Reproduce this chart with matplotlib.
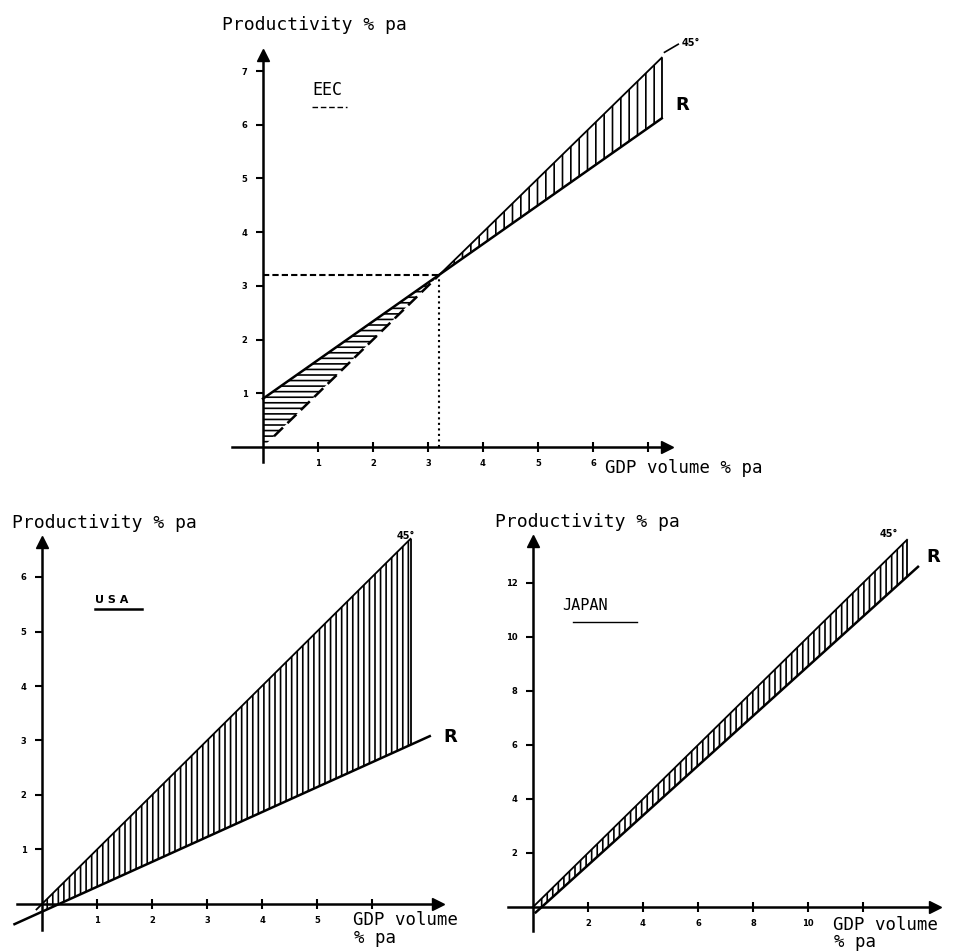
import numpy as np
import matplotlib.pyplot as plt

plt.rcParams['hatch.linewidth'] = 1.2
plt.rcParams['font.family'] = 'DejaVu Sans Mono'

# ---- data ----
# EEC
eec_r_x = [0.0, 7.25]
eec_r_y = [0.9, 6.12]
eec_45_x = [0.2, 7.25]
eec_cross = 3.2
eec_xticks = [1, 2, 3, 4, 5, 6, 7]
eec_xlabels = ['1', '2', '3', '4', '5', '6', '']
eec_yticks = [1, 2, 3, 4, 5, 6, 7]
eec_ylabels = ['1', '2', '3', '4', '5', '6', '7']

# USA
usa_r_x = [-0.5, 7.05]
usa_r_y = [-0.37, 3.08]
usa_45_x = [-0.1, 6.7]
usa_xticks = [1, 2, 3, 4, 5, 6]
usa_xlabels = ['1', '2', '3', '4', '5', '']
usa_yticks = [1, 2, 3, 4, 5, 6]
usa_ylabels = ['1', '2', '3', '4', '5', '6']

# Japan
jap_r_x = [0.1, 14.0]
jap_r_y = [-0.2, 12.6]
jap_45_x = [0.0, 13.6]
jap_xticks = [2, 4, 6, 8, 10, 12]
jap_xlabels = ['2', '4', '6', '8', '10', '']
jap_yticks = [2, 4, 6, 8, 10, 12]
jap_ylabels = ['2', '4', '6', '8', '10', '12']

W, H = 965, 952
fig = plt.figure(figsize=(W / 100, H / 100), dpi=100)


def panel(ox, oy, sx, sy, xlim, ylim):
    # place an axes so that data origin lands on pixel (ox, oy)
    left = ox + xlim[0] * sx
    right = ox + xlim[1] * sx
    top = oy - ylim[1] * sy
    bottom = oy - ylim[0] * sy
    ax = fig.add_axes([left / W, 1 - bottom / H, (right - left) / W, (bottom - top) / H])
    ax.set_xlim(xlim)
    ax.set_ylim(ylim)
    ax.patch.set_visible(False)
    return ax


def draw_axes(ax, x_ext, y_ext, xt, xl, yt, yl):
    for s in ['top', 'right']:
        ax.spines[s].set_visible(False)
    for s in ['left', 'bottom']:
        ax.spines[s].set_position(('data', 0))
        ax.spines[s].set_linewidth(1.8)
    ax.spines['left'].set_bounds(*y_ext)
    ax.spines['bottom'].set_bounds(*x_ext)
    ax.plot(x_ext[1], 0, marker='>', ms=9, color='k', clip_on=False)
    ax.plot(0, y_ext[1], marker='^', ms=9, color='k', clip_on=False)
    ax.set_xticks(xt, xl)
    ax.set_yticks(yt, yl)
    ax.tick_params(axis='x', direction='inout', length=7, width=1.5, labelsize=6, pad=5)
    ax.tick_params(axis='y', direction='out', length=5, width=1.5, labelsize=6, pad=6)
    for lbl in ax.get_xticklabels() + ax.get_yticklabels():
        lbl.set_fontweight('bold')
        lbl.set_family('DejaVu Sans')


def line_fn(xs, ys):
    slope = (ys[1] - ys[0]) / (xs[1] - xs[0])
    return lambda x: ys[0] + slope * (np.asarray(x) - xs[0])


# ---------------- EEC ----------------
ax = panel(263, 447, 55, 53.7, (-0.8, 7.6), (-0.6, 7.6))
draw_axes(ax, (-0.56, 7.35), (-0.28, 7.3), eec_xticks, eec_xlabels, eec_yticks, eec_ylabels)
r = line_fn(eec_r_x, eec_r_y)
ax.plot(eec_r_x, eec_r_y, color='k', lw=1.8)
xs = np.linspace(eec_cross, eec_45_x[1], 50)
ax.fill_between(xs, r(xs), xs, facecolor='none', edgecolor='k', hatch='||', linewidth=0)
ax.plot([eec_cross, eec_45_x[1]], [eec_cross, eec_45_x[1]], color='k', lw=1.3)
ax.vlines(eec_45_x[1], r(eec_45_x[1]), eec_45_x[1], color='k', lw=1.3)
xs = np.linspace(0, eec_cross, 50)
ax.fill_between(xs, xs, r(xs), facecolor='none', edgecolor='k', hatch='---', linewidth=0)
ax.plot([eec_45_x[0], eec_cross], [eec_45_x[0], eec_cross], color='k', lw=1.8,
        dashes=(5, 2.5))
ax.plot([eec_45_x[1] + 0.05, eec_45_x[1] + 0.3], [eec_45_x[1] + 0.1, eec_45_x[1] + 0.25],
        color='k', lw=1.2, clip_on=False)
ax.plot([0, eec_cross], [eec_cross, eec_cross], color='k', lw=1.5, dashes=(3, 1.5))
ax.plot([eec_cross, eec_cross], [0, eec_cross], color='k', lw=1.5, ls=':')
ax.text(-0.75, 7.86, 'Productivity % pa', fontsize=13, va='center', clip_on=False)
ax.text(0.89, 6.65, 'EEC', fontsize=12, va='center')
ax.plot([0.89, 1.53], [6.33, 6.33], color='k', lw=1.0, dashes=(4, 2))
ax.text(7.5, 6.37, 'R', fontsize=13, fontweight='bold', family='DejaVu Sans',
        va='center', clip_on=False)
ax.text(7.62, 7.52, '45°', fontsize=7, fontweight='bold', family='DejaVu Sans',
        va='center', clip_on=False)
ax.text(6.22, -0.39, 'GDP volume % pa', fontsize=12.5, va='center', clip_on=False)

# ---------------- USA ----------------
ax = panel(42, 904, 55, 54.5, (-0.75, 7.6), (-0.7, 7.2))
draw_axes(ax, (-0.45, 7.2), (-0.48, 6.65), usa_xticks, usa_xlabels, usa_yticks, usa_ylabels)
r = line_fn(usa_r_x, usa_r_y)
ax.plot(usa_r_x, usa_r_y, color='k', lw=1.8, clip_on=False)
xs = np.linspace(0, usa_45_x[1], 80)
ax.fill_between(xs, r(xs), xs, facecolor='none', edgecolor='k', hatch='|||', linewidth=0)
ax.plot(usa_45_x, usa_45_x, color='k', lw=1.3)
ax.vlines(usa_45_x[1], r(usa_45_x[1]), usa_45_x[1], color='k', lw=1.3)
ax.text(-0.55, 7.0, 'Productivity % pa', fontsize=13, va='center', clip_on=False)
ax.text(0.96, 5.58, 'U S A', fontsize=8, fontweight='bold', family='DejaVu Sans', va='center')
ax.plot([0.96, 1.82], [5.41, 5.41], color='k', lw=1.8)
ax.text(6.45, 6.75, '45°', fontsize=7, fontweight='bold', family='DejaVu Sans', va='center')
ax.text(7.3, 3.06, 'R', fontsize=13, fontweight='bold', family='DejaVu Sans',
        va='center', clip_on=False)
ax.text(5.65, -0.29, 'GDP volume', fontsize=12.5, va='center', clip_on=False)
ax.text(5.68, -0.62, '% pa', fontsize=12.5, va='center', clip_on=False)

# ---------------- JAPAN ----------------
ax = panel(533, 907, 27.5, 27, (-1.5, 15.2), (-1.4, 14.6))
draw_axes(ax, (-0.9, 14.6), (-0.9, 13.55), jap_xticks, jap_xlabels, jap_yticks, jap_ylabels)
r = line_fn(jap_r_x, jap_r_y)
ax.plot(jap_r_x, jap_r_y, color='k', lw=1.8)
xs = np.linspace(0.2, jap_45_x[1], 80)
ax.fill_between(xs, r(xs), xs, facecolor='none', edgecolor='k', hatch='|||', linewidth=0)
ax.plot(jap_45_x, jap_45_x, color='k', lw=1.3)
ax.vlines(jap_45_x[1], r(jap_45_x[1]), jap_45_x[1], color='k', lw=1.3)
ax.text(-1.38, 14.26, 'Productivity % pa', fontsize=13, va='center', clip_on=False)
ax.text(1.05, 11.15, 'JAPAN', fontsize=11, va='center')
ax.plot([1.45, 3.78], [10.55, 10.55], color='k', lw=1.0)
ax.text(12.6, 13.8, '45°', fontsize=7, fontweight='bold', family='DejaVu Sans', va='center')
ax.text(14.3, 12.96, 'R', fontsize=13, fontweight='bold', family='DejaVu Sans',
        va='center', clip_on=False)
ax.text(10.9, -0.67, 'GDP volume', fontsize=12.5, va='center', clip_on=False)
ax.text(10.95, -1.3, '% pa', fontsize=12.5, va='center', clip_on=False)

fig.savefig('out.png', dpi=100, facecolor='white')
